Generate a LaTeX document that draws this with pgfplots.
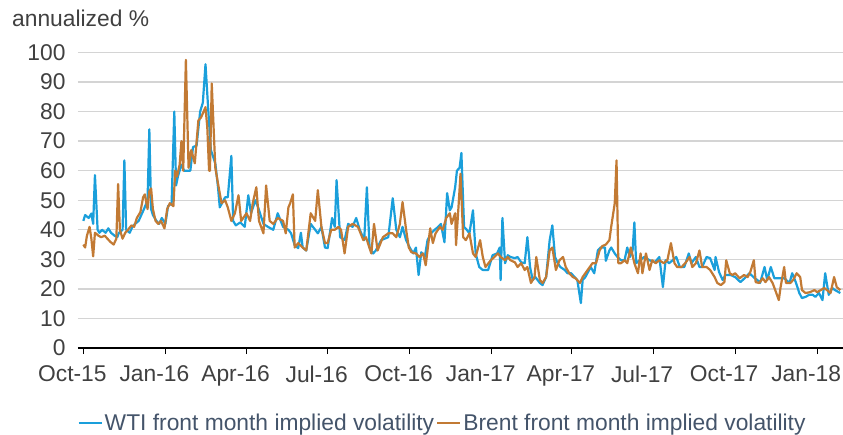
\documentclass[border=0pt]{standalone}
\usepackage{fontspec}
\setmainfont{Liberation Sans}
\usepackage{pgfplots}
\pgfplotsset{compat=1.18}
\definecolor{wti}{HTML}{1A9FDB}
\definecolor{brent}{HTML}{C27A34}
\definecolor{txt}{HTML}{404040}
\definecolor{leg}{HTML}{44546A}
\definecolor{gridc}{HTML}{D4D4D4}
\newcommand{\cf}{\fontsize{22.8bp}{27bp}\selectfont}
\begin{document}
\begin{tikzpicture}
\useasboundingbox (-78bp,-87bp) rectangle (765bp,348bp);
\begin{axis}[
  at={(0,0)}, anchor=south west, scale only axis,
  width=765bp, height=295.5bp,
  xmin=-6, xmax=852, ymin=0, ymax=100,
  axis x line*=bottom, axis y line*=left,
  y axis line style={draw=none},
  x axis line style={draw=black, line width=1.2bp},
  xtick={0,92,183,274,366,458,548,639,731,823},
  xticklabels={Oct-15,Jan-16,Apr-16,Jul-16,Oct-16,Jan-17,Apr-17,Jul-17,Oct-17,Jan-18},
  ytick={0,10,...,100},
  tick align=outside, major tick length=6bp,
  xtick style={draw=black, line width=1bp},
  ytick style={draw=none},
  ymajorgrids, grid style={draw=gridc, line width=1.3bp},
  /pgf/number format/assume math mode=true,
  ticklabel style={font=\cf, text=txt},
  yticklabel style={anchor=east, xshift=-3bp},
  xticklabel style={anchor=north, xshift=-11bp, yshift=-8bp},
  legend style={at={(0.4765,-0.254)}, anchor=center, draw=none, fill=none,
    legend columns=2, font=\cf, text=leg, nodes={inner xsep=2bp, inner ysep=1bp},
    /tikz/every even column/.append style={column sep=0bp}},
  legend image code/.code={\draw[#1] (0bp,0bp) -- (23bp,0bp);},
  clip=false,
]
\addplot[wti, line width=2.2bp, line join=round] coordinates {
(0,43)(2,45)(6,44)(9,45.5)(11,42)(13,58.5)(16,40)(18,39)(21,40)(25,39)(28,40.5)(31,39)(35,38)(38,37.5)(40,39)(44,40)(46,63.5)(48,40)(52,39)(55,41)(58,42)(62,43)(65,45)(68,47)(72,50)(74,74)(76,47)(78,45)(82,43)(85,42)(88,44)(92,42)(95,48)(99,49)(102,80)(104,55)(106,58)(110,62)(113,60)(120,60)(123,68)(127,68.5)(131,80)(134,83)(137,96)(140,81)(143,67)(148,62.5)(151,54.5)(153,47.6)(159,51)(162,51)(166,65)(168,43)(171,41.5)(176,42.5)(181,41)(185,51.7)(188,45.6)(193,50)(196,47.6)(202,42)(207,41)(213,40)(218,45.6)(224,41)(230,40)(233,38.8)(237,34.8)(241,33.8)(244,39)(246,34)(250,33)(255,42)(260,40)(263,38.8)(267,41)(271,34)(274,33.8)(279,44)(282,41)(284,56.8)(288,37.5)(293,36.5)(297,42)(302,41)(306,44)(310,40)(315,36.5)(318,54.4)(321,34)(325,32)(328,33)(334,36.5)(342,37.5)(347,50.7)(351,40)(355,37.5)(358,41)(362,36.5)(366,34)(370,32)(373,34)(376,24.7)(379,32.4)(383,30.8)(386,36.5)(390,38.8)(394,40)(398,41)(401,42)(405,35.8)(408,52.4)(411,46.6)(413,47.6)(417,54.4)(419,60)(422,61)(424,66)(427,41)(430,40)(433,38.8)(437,46.6)(440,32)(444,27.4)(448,26.4)(454,26.4)(459,31.4)(464,32)(467,34)(468,23)(470,44)(473,28.7)(476,31.4)(479,30.8)(484,30.4)(487,30.8)(491,29)(495,28.7)(498,37.5)(501,27.4)(504,23)(507,24)(512,22)(515,21.3)(519,24)(523,36.5)(526,41.5)(529,30.8)(532,28.7)(535,27.4)(540,26.4)(543,25.3)(547,25.3)(551,24)(554,23)(558,15.2)(560,23)(563,24)(569,27.4)(573,25.3)(577,33)(580,34)(585,34)(586,29.5)(590,33)(592,34)(596,32)(599,30.8)(603,29.7)(607,29.7)(610,34)(613,30.8)(616,33)(618,42.5)(620,28.7)(624,29.7)(629,30.8)(635,29.7)(641,29)(646,30.8)(650,20.6)(653,29.7)(657,28.7)(661,29.7)(665,30.8)(669,27.4)(674,27.4)(679,32)(682,28.7)(687,30.8)(691,27.4)(694,27.4)(699,30.8)(703,30.4)(708,26.4)(709,30.8)(713,25.7)(717,23)(720,24.7)(726,24.7)(731,24)(737,22.3)(743,24)(747,25.3)(753,23.6)(756,23)(759,22)(764,27.4)(767,23)(771,27.4)(775,23.6)(781,23.6)(786,23.6)(792,22)(795,25.3)(799,22.3)(803,18.6)(806,16.9)(810,17.3)(814,18)(818,18)(821,17.3)(825,18.6)(829,16.2)(832,25.3)(836,18)(840,20.3)(843,19.6)(849,18.6)
};
\addlegendentry{WTI front month implied volatility}
\addplot[brent, line width=2.2bp, line join=round] coordinates {
(0,35)(2,34)(4,38)(7,41)(9,37)(11,31)(13,39)(17,38)(20,37.5)(24,38)(27,37)(30,36)(34,35)(37,37)(39,55.5)(41,40)(44,37)(47,39)(50,40)(54,41.5)(57,41)(60,44)(64,46)(67,51)(69,52)(72,47)(74,53)(76,54)(78,47)(81,43)(84,42)(87,43)(91,40.5)(94,47)(97,49)(101,48)(103,60)(105,58)(108,62)(110,70)(112,60)(115,97.5)(118,61)(121,67)(125,62.5)(129,77)(132,78)(137,81.5)(139,74.7)(141,60)(142,60)(144,89.5)(148,61)(151,55.7)(155,49)(159,50)(162,47.6)(166,43)(170,45.6)(174,51.7)(177,43)(183,45.6)(187,43)(190,49)(194,54.4)(197,43)(202,38.8)(205,55)(209,43)(213,42)(218,44)(224,43)(227,38.8)(230,47.6)(232,49)(235,52)(237,34)(241,35.5)(246,34)(250,33)(255,45.6)(260,43)(263,53.4)(267,41)(271,35.5)(274,35.5)(278,40)(282,40)(286,41)(289,40)(293,32)(297,41)(302,42)(308,41)(314,36.5)(317,37.5)(323,32)(326,42)(330,33)(336,37.5)(342,38.8)(347,38.8)(351,37.5)(355,42)(358,49.4)(362,40)(365,34)(368,32.4)(373,32)(377,30.8)(381,32)(384,28)(389,40.5)(392,35.5)(395,38.8)(400,41)(403,40)(407,44)(411,45.6)(413,42)(417,45.6)(418,34.8)(421,49)(423,59)(426,37.5)(429,36.5)(433,38.8)(437,32)(440,30.8)(445,36.5)(448,30.8)(451,27.4)(457,29.7)(461,30.8)(465,32)(468,30.8)(473,29.7)(476,30.8)(479,29.7)(484,29)(487,27.4)(491,28.7)(495,26.4)(498,27.4)(502,22)(506,24)(508,30.8)(512,23)(515,22)(519,24)(523,33)(526,34)(530,26.4)(534,29.7)(538,30.8)(541,27.4)(545,25.3)(549,24)(552,23.6)(557,22)(560,24)(563,25.3)(568,27.4)(571,28.7)(575,28.7)(579,33)(582,34.5)(586,35)(590,36.5)(592,41)(596,49)(598,63.5)(600,28.7)(603,28.7)(607,29.7)(610,28.7)(614,34)(618,28.7)(622,25.3)(625,32)(627,25.3)(631,32)(635,26.4)(638,29.7)(642,28.7)(646,29.7)(651,28.7)(655,29.7)(659,35.5)(663,28.7)(666,27.4)(671,27.4)(675,28.7)(680,30.8)(683,27.4)(687,28.7)(691,33)(694,27.4)(699,27.4)(703,26.4)(708,24)(711,22)(715,21.3)(719,22.3)(721,29.7)(725,25.3)(728,24.7)(731,25.3)(736,23.6)(741,24.7)(745,24)(748,25.7)(752,29.7)(754,22.3)(758,22)(762,23.6)(765,22.3)(769,24)(773,22)(776,19.6)(780,16.2)(782,20.6)(786,27.4)(788,22)(793,22)(796,23)(800,25.3)(804,24)(806,19.6)(810,18.6)(815,18.9)(820,19.6)(823,18.9)(827,19.6)(831,20.3)(834,19.6)(838,18.6)(842,24)(845,20.6)(849,19.6)
};
\addlegendentry{Brent front month implied volatility}
\end{axis}
\node[anchor=west, font=\cf, text=txt, inner sep=0pt] at (-66bp,330bp) {annualized \%};
\end{tikzpicture}
\end{document}
